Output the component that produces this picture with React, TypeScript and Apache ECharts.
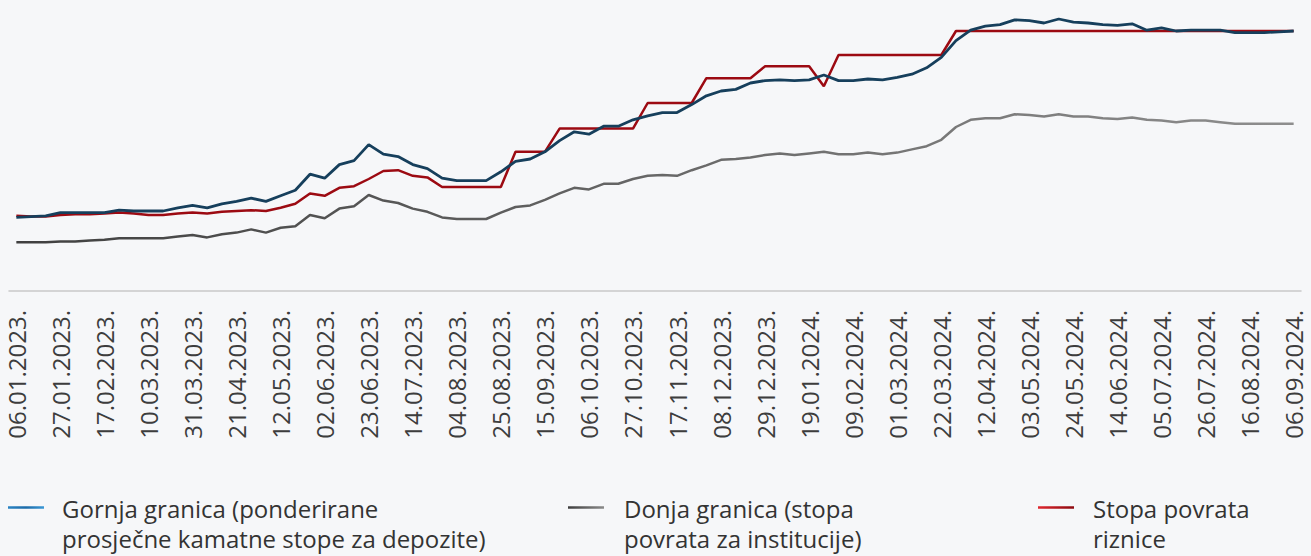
import React, { useEffect, useRef } from "react";
import * as echarts from "echarts";

const dates: string[] = [
  "06.01.2023.", "13.01.2023.", "20.01.2023.", "27.01.2023.", "03.02.2023.", "10.02.2023.", "17.02.2023.", "24.02.2023.",
  "03.03.2023.", "10.03.2023.", "17.03.2023.", "24.03.2023.", "31.03.2023.", "07.04.2023.", "14.04.2023.", "21.04.2023.",
  "28.04.2023.", "05.05.2023.", "12.05.2023.", "19.05.2023.", "26.05.2023.", "02.06.2023.", "09.06.2023.", "16.06.2023.",
  "23.06.2023.", "30.06.2023.", "07.07.2023.", "14.07.2023.", "21.07.2023.", "28.07.2023.", "04.08.2023.", "11.08.2023.",
  "18.08.2023.", "25.08.2023.", "01.09.2023.", "08.09.2023.", "15.09.2023.", "22.09.2023.", "29.09.2023.", "06.10.2023.",
  "13.10.2023.", "20.10.2023.", "27.10.2023.", "03.11.2023.", "10.11.2023.", "17.11.2023.", "24.11.2023.", "01.12.2023.",
  "08.12.2023.", "15.12.2023.", "22.12.2023.", "29.12.2023.", "05.01.2024.", "12.01.2024.", "19.01.2024.", "26.01.2024.",
  "02.02.2024.", "09.02.2024.", "16.02.2024.", "23.02.2024.", "01.03.2024.", "08.03.2024.", "15.03.2024.", "22.03.2024.",
  "29.03.2024.", "05.04.2024.", "12.04.2024.", "19.04.2024.", "26.04.2024.", "03.05.2024.", "10.05.2024.", "17.05.2024.",
  "24.05.2024.", "31.05.2024.", "07.06.2024.", "14.06.2024.", "21.06.2024.", "28.06.2024.", "05.07.2024.", "12.07.2024.",
  "19.07.2024.", "26.07.2024.", "02.08.2024.", "09.08.2024.", "16.08.2024.", "23.08.2024.", "30.08.2024.", "06.09.2024.",
];

// Gornja granica (ponderirane prosječne kamatne stope za depozite)
const upperBound: number[] = [
  0.92, 0.93, 0.94, 0.98, 0.98, 0.98, 0.98, 1.01, 1.0, 1.0,
  1.0, 1.04, 1.07, 1.04, 1.09, 1.12, 1.16, 1.12, 1.19, 1.26,
  1.46, 1.41, 1.58, 1.63, 1.83, 1.71, 1.68, 1.58, 1.53, 1.41,
  1.38, 1.38, 1.38, 1.49, 1.62, 1.65, 1.74, 1.88, 1.99, 1.96,
  2.06, 2.06, 2.14, 2.19, 2.23, 2.23, 2.33, 2.44, 2.5, 2.52,
  2.6, 2.63, 2.64, 2.63, 2.64, 2.7, 2.63, 2.63, 2.65, 2.64,
  2.67, 2.71, 2.79, 2.92, 3.13, 3.26, 3.31, 3.33, 3.39, 3.38,
  3.35, 3.4, 3.36, 3.35, 3.33, 3.32, 3.34, 3.26, 3.29, 3.25,
  3.26, 3.26, 3.26, 3.23, 3.23, 3.23, 3.24, 3.25,
];

// Donja granica (stopa povrata za institucije)
const lowerBound: number[] = [
  0.61, 0.61, 0.61, 0.62, 0.62, 0.63, 0.64, 0.66, 0.66, 0.66,
  0.66, 0.68, 0.7, 0.67, 0.71, 0.73, 0.77, 0.73, 0.79, 0.81,
  0.95, 0.91, 1.03, 1.06, 1.2, 1.13, 1.1, 1.03, 0.99, 0.92,
  0.9, 0.9, 0.9, 0.98, 1.05, 1.07, 1.14, 1.22, 1.29, 1.27,
  1.34, 1.34, 1.4, 1.44, 1.45, 1.44, 1.51, 1.57, 1.64, 1.65,
  1.67, 1.7, 1.72, 1.7, 1.72, 1.74, 1.71, 1.71, 1.73, 1.71,
  1.73, 1.77, 1.81, 1.89, 2.05, 2.14, 2.16, 2.16, 2.21, 2.2,
  2.18, 2.21, 2.18, 2.18, 2.16, 2.15, 2.17, 2.14, 2.13, 2.11,
  2.13, 2.13, 2.11, 2.09, 2.09, 2.09, 2.09, 2.09,
];

// Stopa povrata riznice
const treasuryRate: number[] = [
  0.94, 0.93, 0.93, 0.95, 0.96, 0.96, 0.97, 0.98, 0.97, 0.95,
  0.95, 0.97, 0.98, 0.97, 0.99, 1.0, 1.01, 1.0, 1.04, 1.09,
  1.22, 1.19, 1.29, 1.31, 1.4, 1.5, 1.51, 1.44, 1.42, 1.3,
  1.3, 1.3, 1.3, 1.3, 1.74, 1.74, 1.74, 2.03, 2.03, 2.03,
  2.03, 2.03, 2.03, 2.35, 2.35, 2.35, 2.35, 2.66, 2.66, 2.66,
  2.66, 2.81, 2.81, 2.81, 2.81, 2.56, 2.95, 2.95, 2.95, 2.95,
  2.95, 2.95, 2.95, 2.95, 3.25, 3.25, 3.25, 3.25, 3.25, 3.25,
  3.25, 3.25, 3.25, 3.25, 3.25, 3.25, 3.25, 3.25, 3.25, 3.25,
  3.25, 3.25, 3.25, 3.25, 3.25, 3.25, 3.25, 3.25,
];

const legendLines: string[][] = [
  ["Gornja granica (ponderirane", "prosječne kamatne stope za depozite)"],
  ["Donja granica (stopa", "povrata za institucije)"],
  ["Stopa povrata", "riznice"],
];

const BG = "#f6f7f9";
const FONT = "'Open Sans', 'Noto Sans', sans-serif";

export default function App() {
  const ref = useRef<HTMLDivElement>(null);

  useEffect(() => {
    document.body.style.margin = "0";
    document.body.style.background = BG;
    if (!ref.current) return;
    const chart = echarts.init(ref.current, undefined, { renderer: "svg" });

    const grad = (stops: [number, string][]) =>
      new echarts.graphic.LinearGradient(
        0,
        0,
        1,
        0,
        stops.map(([offset, color]) => ({ offset, color }))
      );

    const legendItems = [
      { x: 8, textX: 62, colors: grad([[0, "#2a84c4"], [0.5, "#1b6aa8"], [1, "#3a98d6"]]) },
      { x: 568, textX: 624, colors: grad([[0, "#3e3e3e"], [1, "#8a8a8a"]]) },
      { x: 1038, textX: 1093, colors: grad([[0, "#e0262e"], [1, "#8c0a10"]]) },
    ];

    const graphic: any[] = [];
    legendItems.forEach((it, i) => {
      graphic.push({
        type: "rect",
        shape: { x: it.x, y: 506.2, width: 36, height: 2.6 },
        style: { fill: it.colors },
        silent: true,
      });
      legendLines[i].forEach((line, j) => {
        graphic.push({
          type: "text",
          x: it.textX,
          y: 493 + j * 30,
          style: {
            text: line,
            fill: "#333333",
            fontSize: 24,
            fontFamily: FONT,
            lineHeight: 30,
            verticalAlign: "top",
            align: "left",
          },
          silent: true,
        });
      });
    });

    chart.setOption({
      animation: false,
      backgroundColor: BG,
      grid: { left: 9, right: 10, top: 11, bottom: 265, containLabel: false },
      xAxis: {
        type: "category",
        data: dates,
        boundaryGap: true,
        axisLine: { lineStyle: { color: "#c9c9c9", width: 1.5 } },
        axisTick: { show: false },
        axisLabel: {
          interval: 2,
          rotate: 90,
          margin: 19,
          color: "#3d3d3d",
          fontSize: 24,
          fontFamily: FONT,
        },
        splitLine: { show: false },
      },
      yAxis: {
        type: "value",
        min: 0,
        max: 3.5,
        show: false,
        splitLine: { show: false },
      },
      series: [
        {
          name: "Donja granica (stopa povrata za institucije)",
          type: "line",
          data: lowerBound,
          symbol: "none",
          lineStyle: {
            width: 2.5,
            color: grad([[0, "#404040"], [1, "#8e8e8e"]]),
          },
        },
        {
          name: "Stopa povrata riznice",
          type: "line",
          data: treasuryRate,
          symbol: "none",
          lineStyle: { width: 2.5, color: "#9c0a12" },
        },
        {
          name: "Gornja granica (ponderirane prosječne kamatne stope za depozite)",
          type: "line",
          data: upperBound,
          symbol: "none",
          lineStyle: { width: 2.8, color: "#163f5c" },
        },
      ],
      graphic,
    });

    return () => chart.dispose();
  }, []);

  return <div ref={ref} style={{ width: 1311, height: 556 }} />;
}
